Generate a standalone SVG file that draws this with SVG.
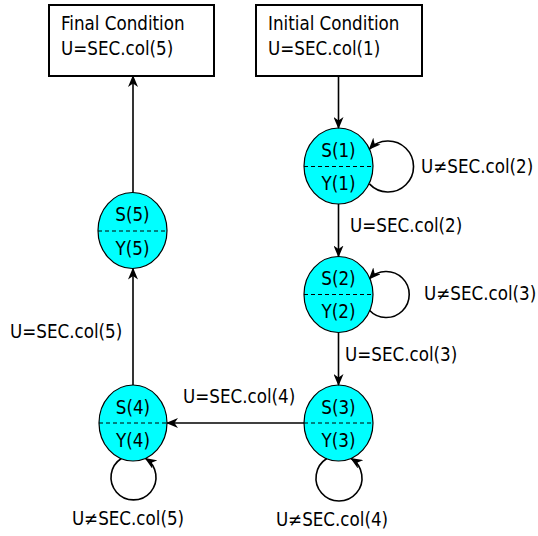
<svg xmlns="http://www.w3.org/2000/svg" width="538" height="536" viewBox="0 0 538 536">
<style>
text{font-family:"DejaVu Sans Condensed","DejaVu Sans",Verdana,sans-serif;font-stretch:condensed;font-size:18.6px;fill:#000}
.box{fill:#fff;stroke:#000;stroke-width:2}
.st{fill:#00ffff;stroke:#000;stroke-width:1.2}
.dash{stroke:#000;stroke-width:1;stroke-dasharray:4,3}
.c{fill:none;stroke:#000;stroke-width:1.6}
.m{text-anchor:middle}
</style>
<defs>
<marker id="ah" viewBox="0 0 12 10" refX="11" refY="5" markerWidth="12" markerHeight="10" markerUnits="userSpaceOnUse" orient="auto">
<path d="M0,0 L12,5 L0,10 L3.5,5 z" fill="#000"/>
</marker>
</defs>
<g id="final">
<rect class="box" x="49" y="5" width="165" height="71"/>
<text x="61" y="30">Final Condition</text>
<text x="61" y="55">U=SEC.col(5)</text>
</g>
<g id="initial">
<rect class="box" x="256" y="5" width="166" height="71"/>
<text x="268" y="30">Initial Condition</text>
<text x="268" y="55">U=SEC.col(1)</text>
</g>
<g id="s1">
<ellipse class="st" cx="338.5" cy="166" rx="34.5" ry="38"/>
<line class="dash" x1="304" y1="166.5" x2="373" y2="166.5"/>
<text class="m" x="338.5" y="157">S(1)</text>
<text class="m" x="338.5" y="190">Y(1)</text>
</g>
<g id="s2">
<ellipse class="st" cx="338.5" cy="294.5" rx="34.5" ry="38"/>
<line class="dash" x1="304" y1="294.5" x2="373" y2="294.5"/>
<text class="m" x="338.5" y="285">S(2)</text>
<text class="m" x="338.5" y="318">Y(2)</text>
</g>
<g id="s3">
<ellipse class="st" cx="338.5" cy="423" rx="34.5" ry="38"/>
<line class="dash" x1="304" y1="423" x2="373" y2="423"/>
<text class="m" x="338.5" y="414">S(3)</text>
<text class="m" x="338.5" y="447">Y(3)</text>
</g>
<g id="s4">
<ellipse class="st" cx="133" cy="423" rx="34" ry="38"/>
<line class="dash" x1="99" y1="423" x2="167" y2="423"/>
<text class="m" x="133" y="414">S(4)</text>
<text class="m" x="133" y="447">Y(4)</text>
</g>
<g id="s5">
<ellipse class="st" cx="132.5" cy="230.5" rx="34.5" ry="38"/>
<line class="dash" x1="98" y1="231" x2="167" y2="231"/>
<text class="m" x="132.5" y="221">S(5)</text>
<text class="m" x="132.5" y="255">Y(5)</text>
</g>
<g id="connectors">
<line class="c" x1="338.5" y1="76" x2="338.5" y2="128" marker-end="url(#ah)"/>
<line class="c" x1="338.5" y1="204" x2="338.5" y2="256.5" marker-end="url(#ah)"/>
<line class="c" x1="338.5" y1="332.5" x2="338.5" y2="385" marker-end="url(#ah)"/>
<line class="c" x1="304" y1="423" x2="167" y2="423" marker-end="url(#ah)"/>
<line class="c" x1="133" y1="385" x2="133" y2="268.5" marker-end="url(#ah)"/>
<line class="c" x1="133" y1="192.5" x2="133" y2="76" marker-end="url(#ah)"/>
<path class="c" d="M369.4,183.9 A25.5,25.5 0 1 0 369.4,149.1" marker-end="url(#ah)"/>
<path class="c" d="M369.4,310.2 A23,23 0 1 0 369.4,278.8" marker-end="url(#ah)"/>
<path class="c" d="M326.8,458.5 A23,23 0 1 0 351.2,458.5" marker-end="url(#ah)"/>
<path class="c" d="M121.3,458.5 A22.5,22.5 0 1 0 145.7,458.5" marker-end="url(#ah)"/>
<text x="421" y="173">U≠SEC.col(2)</text>
<text x="350" y="232">U=SEC.col(2)</text>
<text x="424" y="300">U≠SEC.col(3)</text>
<text x="345" y="361">U=SEC.col(3)</text>
<text x="183" y="403">U=SEC.col(4)</text>
<text x="10" y="338">U=SEC.col(5)</text>
<text class="m" x="332" y="526">U≠SEC.col(4)</text>
<text class="m" x="128" y="525">U≠SEC.col(5)</text>
</g>
</svg>
